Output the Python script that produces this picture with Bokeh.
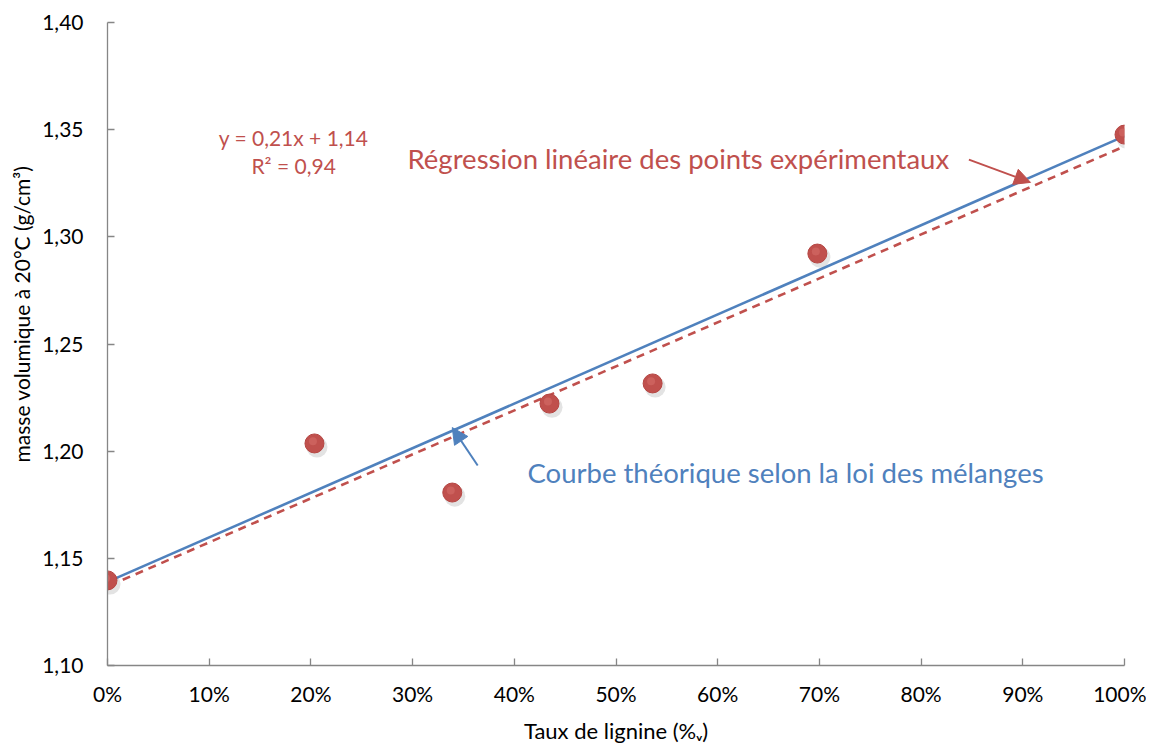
from bokeh.plotting import figure
from bokeh.models import (Range1d, CustomJSTickFormatter, FixedTicker, Label, Arrow,
                          NormalHead, ColumnDataSource, Title)
from bokeh.transform import dodge
from bokeh.embed import file_html
from bokeh.resources import INLINE

# ---- data ----
lignin = [0.0, 0.2035, 0.339, 0.4346, 0.536, 0.698, 1.0]
density = [1.1397, 1.2036, 1.1807, 1.2222, 1.2316, 1.2922, 1.3477]

theory_x = [0.0, 1.0]
theory_y = [1.139, 1.347]

regress_x = [0.015, 1.0]
regress_y = [1.1400, 1.3422]

x_ticks = [0.0, 0.1, 0.2, 0.3, 0.4, 0.5, 0.6, 0.7, 0.8, 0.9, 1.0]
y_ticks = [1.10, 1.15, 1.20, 1.25, 1.30, 1.35, 1.40]

FONT = "Lato"
RED = "#C0504D"
BLUE = "#4F81BD"
AXIS = "#868686"

p = figure(frame_width=1017, frame_height=643, min_border_left=107, min_border_right=22,
           min_border_top=22, min_border_bottom=79,
           x_range=Range1d(0, 1), y_range=Range1d(1.10, 1.40),
           output_backend="svg", toolbar_location=None)
p.outline_line_color = None
p.grid.visible = False
p.background_fill_color = "white"
p.border_fill_color = "white"

for ax in (p.xaxis[0], p.yaxis[0]):
    ax.axis_line_color = AXIS
    ax.axis_line_width = 1.3
    ax.major_tick_line_color = AXIS
    ax.major_tick_line_width = 1.3
    ax.major_tick_in = 7
    ax.major_tick_out = 0
    ax.minor_tick_line_color = None
    ax.major_label_text_font = FONT
    ax.major_label_text_font_size = "21px"
    ax.major_label_text_color = "black"

p.xaxis.ticker = FixedTicker(ticks=x_ticks)
p.yaxis.ticker = FixedTicker(ticks=y_ticks)
p.xaxis.formatter = CustomJSTickFormatter(code="return Math.round(tick*100) + '%';")
p.yaxis.formatter = CustomJSTickFormatter(code="return tick.toFixed(2).replace('.', ',');")
p.xaxis.major_label_standoff = 15
p.yaxis.major_label_standoff = 24

# axis titles
p.add_layout(Title(text="Taux de lignine (%ᵥ)", align="center",
                   text_font=FONT, text_font_size="22px", text_font_style="normal",
                   text_color="black", standoff=12), "below")
p.add_layout(Title(text="masse volumique  à 20°C (g/cm³)", align="left", offset=203,
                   text_font=FONT, text_font_size="21px", text_font_style="normal",
                   text_color="black", standoff=12), "left")

# lines
p.line(theory_x, theory_y, line_color=BLUE, line_width=2.6)
p.line(regress_x, regress_y, line_color=RED, line_width=2.6, line_dash="8 6")

# points with soft shadow
src = ColumnDataSource(dict(x=lignin, y=density))
p.scatter(x=dodge("x", 0.0025), y=dodge("y", -0.0017), source=src, size=21,
          fill_color="#7f7f7f", fill_alpha=0.22, line_color=None)
p.scatter(x="x", y="y", source=src, size=19, fill_color=RED, line_color="#B54643",
          line_width=1)
p.scatter(x=dodge("x", -0.0015), y=dodge("y", 0.0010), source=src, size=8,
          fill_color="#D8716E", fill_alpha=0.5, line_color=None)

# annotations
p.add_layout(Label(x=0.183, y=1.3464, text="y = 0,21x + 1,14", text_font=FONT,
                   text_font_size="21px", text_color=RED, text_align="center",
                   text_baseline="middle"))
p.add_layout(Label(x=0.183, y=1.3333, text="R² = 0,94", text_font=FONT,
                   text_font_size="21px", text_color=RED, text_align="center",
                   text_baseline="middle"))
p.add_layout(Label(x=0.295, y=1.3365, text="Régression linéaire des points expérimentaux",
                   text_font=FONT, text_font_size="27.5px", text_color=RED,
                   text_align="left", text_baseline="middle"))
p.add_layout(Label(x=0.413, y=1.190, text="Courbe théorique selon la loi des mélanges",
                   text_font=FONT, text_font_size="27.5px", text_color=BLUE,
                   text_align="left", text_baseline="middle"))

p.add_layout(Arrow(x_start=0.847, y_start=1.336, x_end=0.9076, y_end=1.3254,
                   line_color=RED, line_width=2,
                   end=NormalHead(size=16, fill_color=RED, line_color=RED)))
p.add_layout(Arrow(x_start=0.364, y_start=1.1933, x_end=0.339, y_end=1.211,
                   line_color=BLUE, line_width=2,
                   end=NormalHead(size=16, fill_color=BLUE, line_color=BLUE)))

open("out.html", "w").write(file_html(p, INLINE))
